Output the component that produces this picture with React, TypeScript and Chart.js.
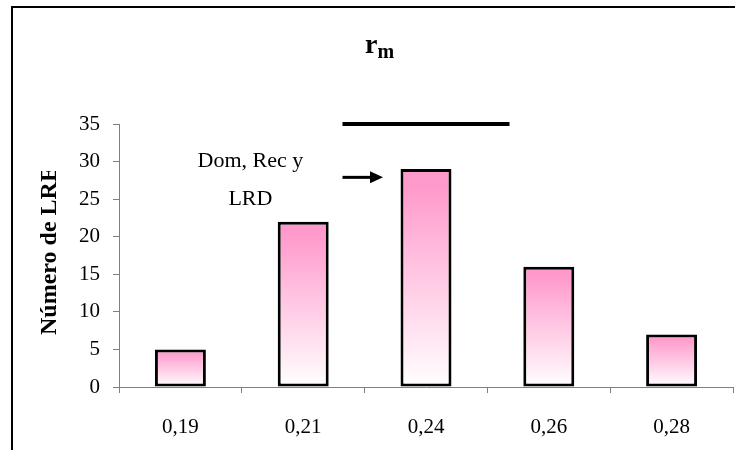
import React, { useEffect, useRef } from "react";
import { Chart, registerables } from "chart.js";
Chart.register(...registerables);

// ---- data ----
const categories = ["0,19", "0,21", "0,24", "0,26", "0,28"];
const counts = [5, 22, 29, 16, 7];
const yMin = 0;
const yMax = 35;
const yStep = 5;
const titleMain = "r";
const titleSub = "m";
const yTitle = "Número de LRE";
const noteLines = ["Dom, Rec y", "LRD"];
// annotation anchors in data units: [category index, value]
const noteLine1At = [0.57, 30];
const noteLine2At = [0.57, 25];
const arrowFrom = [1.32, 27.9];
const arrowTo = [1.65, 27.9];
const barFrom = [1.32, 35];
const barTo = [2.68, 35];

const FONT = "'Liberation Serif', 'Times New Roman', serif";

const decorPlugin = {
  id: "decor",
  beforeDraw(chart: any) {
    const ctx = chart.ctx;
    ctx.save();
    ctx.fillStyle = "#ffffff";
    ctx.fillRect(0, 0, chart.width, chart.height);
    // outer frame (left + top)
    ctx.strokeStyle = "#000000";
    ctx.lineWidth = 2;
    ctx.beginPath();
    ctx.moveTo(12, chart.height);
    ctx.lineTo(12, 7);
    ctx.lineTo(chart.width, 7);
    ctx.stroke();
    ctx.restore();
  },
  afterDraw(chart: any) {
    const ctx = chart.ctx;
    const xs = chart.scales.x;
    const ys = chart.scales.y;
    ctx.save();
    // title r_m
    ctx.fillStyle = "#000";
    ctx.textBaseline = "alphabetic";
    ctx.textAlign = "left";
    ctx.font = `bold 28px ${FONT}`;
    const rw = ctx.measureText(titleMain).width;
    const tx = 365;
    ctx.fillText(titleMain, tx, 53);
    ctx.font = `bold 20px ${FONT}`;
    ctx.fillText(titleSub, tx + rw, 58);

    // y-axis title, clipped at top like the reference
    ctx.save();
    ctx.beginPath();
    ctx.rect(0, 171, 119, chart.height - 171);
    ctx.clip();
    ctx.translate(50, 335);
    ctx.rotate(-Math.PI / 2);
    ctx.font = `bold 24px ${FONT}`;
    ctx.textAlign = "left";
    ctx.textBaseline = "middle";
    ctx.fillText(yTitle, 0, 0);
    ctx.restore();

    // annotation text
    ctx.font = `22px ${FONT}`;
    ctx.textAlign = "center";
    ctx.textBaseline = "middle";
    ctx.fillText(noteLines[0], xs.getPixelForValue(noteLine1At[0]), ys.getPixelForValue(noteLine1At[1]));
    ctx.fillText(noteLines[1], xs.getPixelForValue(noteLine2At[0]), ys.getPixelForValue(noteLine2At[1]));

    // arrow
    const ax0 = xs.getPixelForValue(arrowFrom[0]);
    const ax1 = xs.getPixelForValue(arrowTo[0]);
    const ay = ys.getPixelForValue(arrowFrom[1]);
    ctx.strokeStyle = "#000";
    ctx.lineWidth = 3;
    ctx.beginPath();
    ctx.moveTo(ax0, ay);
    ctx.lineTo(ax1 - 10, ay);
    ctx.stroke();
    ctx.fillStyle = "#000";
    ctx.beginPath();
    ctx.moveTo(ax1, ay);
    ctx.lineTo(ax1 - 13, ay - 6);
    ctx.lineTo(ax1 - 13, ay + 6);
    ctx.closePath();
    ctx.fill();

    // bar line
    ctx.lineWidth = 4;
    ctx.beginPath();
    ctx.moveTo(xs.getPixelForValue(barFrom[0]), ys.getPixelForValue(barFrom[1]));
    ctx.lineTo(xs.getPixelForValue(barTo[0]), ys.getPixelForValue(barTo[1]));
    ctx.stroke();
    ctx.restore();
  },
};

export default function App() {
  const ref = useRef<HTMLCanvasElement | null>(null);
  useEffect(() => {
    if (!ref.current) return;
    const chart = new Chart(ref.current, {
      type: "bar",
      data: {
        labels: categories,
        datasets: [
          {
            data: counts,
            backgroundColor: (c: any) => {
              const chart = c.chart;
              const ys = chart.scales && chart.scales.y;
              if (!ys || c.dataIndex === undefined) return "#FF99CC";
              const top = ys.getPixelForValue(counts[c.dataIndex]);
              const bot = ys.getPixelForValue(0);
              if (!isFinite(top) || !isFinite(bot) || top === bot) return "#FF99CC";
              const g = chart.ctx.createLinearGradient(0, top, 0, bot);
              g.addColorStop(0, "#FF99CC");
              g.addColorStop(0.08, "#FF9ACC");
              g.addColorStop(1, "#FFFFFF");
              return g;
            },
            borderColor: "#000000",
            borderWidth: 3,
            borderSkipped: false,
            barPercentage: 0.415,
            categoryPercentage: 1,
          },
        ],
      },
      options: {
        animation: false,
        responsive: false,
        maintainAspectRatio: false,
        layout: { padding: { top: 124, right: 2, left: 0, bottom: 0 } },
        plugins: {
          legend: { display: false },
          title: { display: false },
          tooltip: { enabled: false },
        },
        scales: {
          x: {
            type: "category",
            offset: true,
            grid: { offset: true, drawOnChartArea: false, tickLength: 6, color: "#808080", lineWidth: 1 },
            border: { color: "#808080", width: 1 },
            ticks: { color: "#000", font: { family: FONT, size: 21 }, padding: 22 },
            afterFit: (s: any) => {
              s.height = 63;
            },
          },
          y: {
            min: yMin,
            max: yMax,
            grid: { drawOnChartArea: false, tickLength: 6, color: "#808080", lineWidth: 1 },
            border: { color: "#808080", width: 1 },
            ticks: { stepSize: yStep, color: "#000", font: { family: FONT, size: 21 }, padding: 13 },
            afterFit: (s: any) => {
              s.width = 119;
            },
          },
        },
      },
      plugins: [decorPlugin],
    });
    return () => chart.destroy();
  }, []);
  return (
    <div style={{ position: "fixed", left: 0, top: 0, width: 735, height: 450, background: "#fff" }}>
      <canvas ref={ref} width={735} height={450} style={{ display: "block", width: 735, height: 450 }} />
    </div>
  );
}
